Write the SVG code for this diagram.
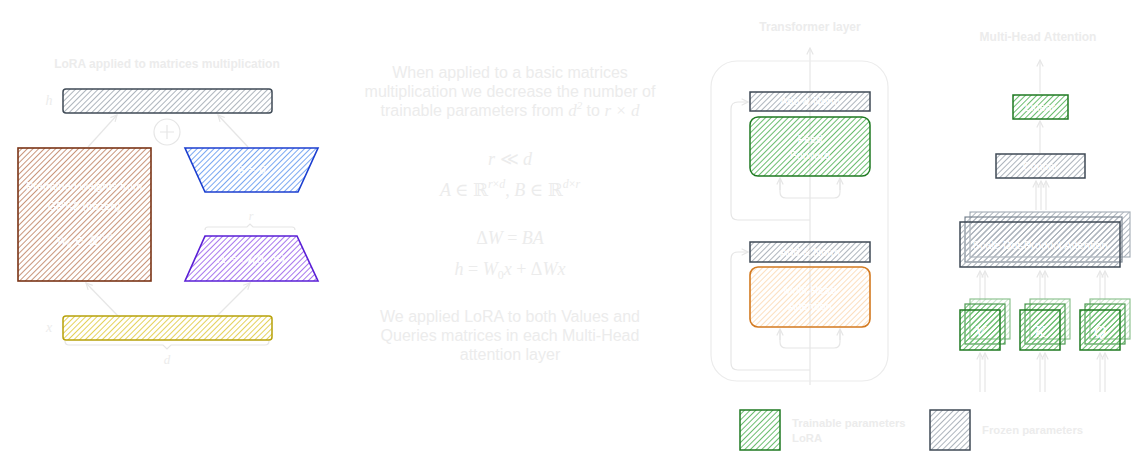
<svg xmlns="http://www.w3.org/2000/svg" width="1131" height="457" viewBox="0 0 1131 457">
<defs>
<pattern id="hGray" patternUnits="userSpaceOnUse" width="4" height="4" patternTransform="rotate(45)"><line x1="0" y1="0" x2="0" y2="4" stroke="#aeb5bd" stroke-width="2"/></pattern>
<pattern id="hGreen" patternUnits="userSpaceOnUse" width="4" height="4" patternTransform="rotate(45)"><line x1="0" y1="0" x2="0" y2="4" stroke="#6bbd6f" stroke-width="2"/></pattern>
<pattern id="hGreenL" patternUnits="userSpaceOnUse" width="4" height="4" patternTransform="rotate(45)"><line x1="0" y1="0" x2="0" y2="4" stroke="#c4e3c5" stroke-width="1.8"/></pattern>
<pattern id="hBrown" patternUnits="userSpaceOnUse" width="4" height="4" patternTransform="rotate(45)"><line x1="0" y1="0" x2="0" y2="4" stroke="#c9967c" stroke-width="2"/></pattern>
<pattern id="hBlue" patternUnits="userSpaceOnUse" width="4" height="4" patternTransform="rotate(45)"><line x1="0" y1="0" x2="0" y2="4" stroke="#7aa8f2" stroke-width="2"/></pattern>
<pattern id="hPurple" patternUnits="userSpaceOnUse" width="4" height="4" patternTransform="rotate(45)"><line x1="0" y1="0" x2="0" y2="4" stroke="#a878ee" stroke-width="2"/></pattern>
<pattern id="hYellow" patternUnits="userSpaceOnUse" width="4" height="4" patternTransform="rotate(45)"><line x1="0" y1="0" x2="0" y2="4" stroke="#e5d25a" stroke-width="2"/></pattern>
<pattern id="hOrange" patternUnits="userSpaceOnUse" width="4" height="4" patternTransform="rotate(45)"><line x1="0" y1="0" x2="0" y2="4" stroke="#fcdcb8" stroke-width="1.8"/></pattern>
<marker id="arr" viewBox="0 0 10 10" refX="9" refY="5" markerWidth="8" markerHeight="8" orient="auto-start-reverse" markerUnits="userSpaceOnUse"><path d="M1,1 L9,5 L1,9" fill="none" stroke="#e6e6e6" stroke-width="1.5"/></marker>
</defs>
<style>
.t{font-family:"Liberation Sans",Arial,sans-serif;fill:#ececec}
.tb{font-family:"Liberation Sans",Arial,sans-serif;font-weight:bold;fill:#ececec;font-size:12px}
.m{font-family:"Liberation Serif","DejaVu Serif",serif;fill:#ececec;font-style:italic}
.w{font-family:"Liberation Sans",Arial,sans-serif;fill:#ffffff;font-size:11px}
.wm{font-family:"Liberation Serif","DejaVu Serif",serif;fill:#ffffff;font-style:italic}
.c{fill:none;stroke:#e6e6e6;stroke-width:1.2}
.ca{fill:none;stroke:#e6e6e6;stroke-width:1.2;marker-end:url(#arr)}
.gray{fill:url(#hGray);stroke:#3f4a56;stroke-width:1.5}
.green{fill:url(#hGreen);stroke:#1f7a22;stroke-width:1.5}
.greenL{fill:url(#hGreenL);stroke:#8fc492;stroke-width:1.2}
</style>

<!-- Connectors -->
<g id="connectors">
<line class="ca" x1="88" y1="147" x2="117" y2="115"/>
<line class="ca" x1="248" y1="147" x2="218" y2="115"/>
<line class="ca" x1="118" y1="316" x2="86" y2="283"/>
<line class="ca" x1="217" y1="316" x2="250" y2="283"/>
<path class="c" d="M205,230 q0,-3 3,-3 h39 l3,-3 l3,3 h39 q3,0 3,3"/>
<path class="c" d="M65,341 q0,4 4,4 h94 l4,4 l4,-4 h94 q4,0 4,-4"/>
<!-- transformer -->
<line class="ca" x1="810" y1="385" x2="810" y2="48"/>
<path class="ca" d="M810,220 H738 q-7,0 -7,-7 V109 q0,-7 7,-7 H748"/>
<path class="ca" d="M810,370 H738 q-7,0 -7,-7 V259 q0,-7 7,-7 H748"/>
<path class="c" d="M780,180 V192 q0,6 6,6 H834 q6,0 6,-6 V180"/>
<line class="ca" x1="780" y1="190" x2="780" y2="178"/>
<line class="ca" x1="840" y1="190" x2="840" y2="178"/>
<path class="c" d="M780,330 V342 q0,6 6,6 H834 q6,0 6,-6 V330"/>
<line class="ca" x1="780" y1="340" x2="780" y2="329"/>
<line class="ca" x1="840" y1="340" x2="840" y2="329"/>
<!-- multi-head -->
<line class="ca" x1="1040" y1="93" x2="1040" y2="60"/>
<line class="ca" x1="1040" y1="153" x2="1040" y2="121"/>
<line class="ca" x1="1036" y1="210" x2="1036" y2="181"/>
<line class="ca" x1="1041" y1="210" x2="1041" y2="181"/>
<line class="ca" x1="1046" y1="210" x2="1046" y2="181"/>
<line class="ca" x1="980" y1="305" x2="980" y2="271"/>
<line class="ca" x1="985" y1="300" x2="985" y2="271"/>
<line class="ca" x1="1040" y1="305" x2="1040" y2="271"/>
<line class="ca" x1="1045" y1="300" x2="1045" y2="271"/>
<line class="ca" x1="1100" y1="305" x2="1100" y2="271"/>
<line class="ca" x1="1105" y1="300" x2="1105" y2="271"/>
<line class="ca" x1="980" y1="392" x2="980" y2="353"/>
<line class="ca" x1="985" y1="392" x2="985" y2="353"/>
<line class="ca" x1="1040" y1="392" x2="1040" y2="353"/>
<line class="ca" x1="1045" y1="392" x2="1045" y2="353"/>
<line class="ca" x1="1100" y1="392" x2="1100" y2="353"/>
<line class="ca" x1="1105" y1="392" x2="1105" y2="353"/>
</g>

<!-- Left panel -->
<text class="tb" x="167" y="68" text-anchor="middle">LoRA applied to matrices multiplication</text>
<g id="h-bar">
<rect class="gray" x="63" y="89" width="209" height="24" rx="3"/>
<text class="m" x="49" y="105" font-size="14" text-anchor="middle">h</text>
</g>
<g id="plus">
<circle cx="167" cy="132" r="13" fill="none" stroke="#e6e6e6" stroke-width="1.2"/>
<path d="M160,132 H174 M167,125 V139" stroke="#e6e6e6" stroke-width="1.2"/>
</g>
<g id="w0">
<rect x="18" y="148" width="133" height="133" fill="url(#hBrown)" stroke="#7a3416" stroke-width="1.6"/>
<text class="w" x="84" y="190" text-anchor="middle">Pretrained weights from</text>
<text class="w" x="84" y="210" text-anchor="middle">GPT-2 (frozen)</text>
<text class="wm" x="84" y="245" font-size="13" text-anchor="middle">W<tspan font-size="9" dy="3">0</tspan><tspan dy="-3"> ∈ ℝ</tspan><tspan font-size="9" dy="-5">d×d</tspan></text>
</g>
<g id="B">
<path d="M185,148 H318 L298,192 H205 Z" fill="url(#hBlue)" stroke="#1c3fd0" stroke-width="1.6"/>
<text class="wm" x="251" y="174" font-size="13" text-anchor="middle">B = 0</text>
</g>
<text class="m" x="251" y="220" font-size="12" text-anchor="middle">r</text>
<g id="A">
<path d="M205,236 H297 L318,281 H185 Z" fill="url(#hPurple)" stroke="#5a1fd6" stroke-width="1.6"/>
<text class="wm" x="251" y="263" font-size="13" text-anchor="middle">A = 𝒩(0, σ²)</text>
</g>
<g id="x-bar">
<rect x="63" y="316" width="209" height="24" rx="3" fill="url(#hYellow)" stroke="#b7a10a" stroke-width="1.5"/>
<text class="m" x="49" y="332" font-size="14" text-anchor="middle">x</text>
</g>
<text class="m" x="167" y="364" font-size="13" text-anchor="middle">d</text>

<!-- Middle text -->
<g id="middle-text">
<text class="t" x="510" y="78" font-size="16" text-anchor="middle">When applied to a basic matrices</text>
<text class="t" x="510" y="97" font-size="16" text-anchor="middle">multiplication we decrease the number of</text>
<text class="t" x="510" y="116" font-size="16" text-anchor="middle">trainable parameters from <tspan class="m" font-size="17">d</tspan><tspan class="m" font-size="11" dy="-7" font-style="normal">2</tspan><tspan dy="7"> to </tspan><tspan class="m" font-size="17">r</tspan><tspan class="m" font-size="17" font-style="normal"> × </tspan><tspan class="m" font-size="17">d</tspan></text>
<text class="m" x="510" y="165" font-size="18" text-anchor="middle">r <tspan font-style="normal">≪</tspan> d</text>
<text class="m" x="510" y="196" font-size="18" text-anchor="middle">A <tspan font-style="normal">∈ ℝ</tspan><tspan font-size="12" dy="-8">r<tspan font-style="normal">×</tspan>d</tspan><tspan dy="8" font-style="normal">, </tspan>B <tspan font-style="normal">∈ ℝ</tspan><tspan font-size="12" dy="-8">d<tspan font-style="normal">×</tspan>r</tspan></text>
<text class="m" x="510" y="244" font-size="18" text-anchor="middle"><tspan font-style="normal">Δ</tspan>W <tspan font-style="normal">=</tspan> BA</text>
<text class="m" x="510" y="275" font-size="18" text-anchor="middle">h <tspan font-style="normal">=</tspan> W<tspan font-size="12" dy="4" font-style="normal">0</tspan><tspan dy="-4">x </tspan><tspan font-style="normal">+ Δ</tspan>Wx</text>
<text class="t" x="510" y="322" font-size="16" text-anchor="middle">We applied LoRA to both Values and</text>
<text class="t" x="510" y="341" font-size="16" text-anchor="middle">Queries matrices in each Multi-Head</text>
<text class="t" x="510" y="360" font-size="16" text-anchor="middle">attention layer</text>
</g>

<!-- Transformer layer -->
<text class="tb" x="810" y="31" text-anchor="middle">Transformer layer</text>
<rect x="711" y="61" width="177" height="320" rx="26" fill="none" stroke="#ececec" stroke-width="1.2"/>
<g id="addnorm-top">
<rect class="gray" x="750" y="92" width="120" height="19"/>
<text class="w" x="810" y="105" text-anchor="middle">Add &amp; Norm</text>
</g>
<g id="feed-forward">
<rect class="green" x="750" y="117" width="120" height="59" rx="8"/>
<text class="w" x="810" y="143" text-anchor="middle">Feed</text>
<text class="w" x="810" y="159" text-anchor="middle">Forward</text>
</g>
<g id="addnorm-bottom">
<rect class="gray" x="750" y="242" width="120" height="20"/>
<text class="w" x="810" y="256" text-anchor="middle">Add &amp; Norm</text>
</g>
<g id="mha-block">
<rect x="750" y="267" width="120" height="60" rx="8" fill="url(#hOrange)" stroke="#d3791f" stroke-width="1.6"/>
<text class="w" x="810" y="294" text-anchor="middle">Multi-Head</text>
<text class="w" x="810" y="310" text-anchor="middle">Attention</text>
</g>

<!-- Multi-Head Attention panel -->
<text class="tb" x="1038" y="41" text-anchor="middle">Multi-Head Attention</text>
<g id="linear">
<rect class="green" x="1013" y="95" width="55" height="24"/>
<text class="w" x="1040" y="111" text-anchor="middle">Linear</text>
</g>
<g id="concat">
<rect class="gray" x="996" y="154" width="89" height="24"/>
<text class="w" x="1040" y="170" text-anchor="middle">Concat</text>
</g>
<g id="sdpa">
<rect x="970" y="212" width="160" height="45" fill="url(#hGray)" stroke="#aab2bb" stroke-width="1.2"/>
<rect x="965" y="217" width="157" height="45" fill="url(#hGray)" stroke="#7d8893" stroke-width="1.2"/>
<rect class="gray" x="960" y="222" width="160" height="45"/>
<text class="w" x="1040" y="249" font-size="12" text-anchor="middle">Scale Dot-Product Attention</text>
</g>
<g id="V">
<rect class="greenL" x="970" y="299" width="40" height="40"/>
<rect x="965" y="304" width="40" height="40" fill="url(#hGreen)" stroke="#4e9a52" stroke-width="1.2"/>
<rect class="green" x="960" y="310" width="40" height="40"/>
<text class="wm" x="980" y="337" font-size="17" text-anchor="middle">V</text>
</g>
<g id="K">
<rect class="greenL" x="1030" y="299" width="40" height="40"/>
<rect x="1025" y="304" width="40" height="40" fill="url(#hGreen)" stroke="#4e9a52" stroke-width="1.2"/>
<rect class="green" x="1020" y="310" width="40" height="40"/>
<text class="wm" x="1040" y="337" font-size="17" text-anchor="middle">K</text>
</g>
<g id="Q">
<rect class="greenL" x="1090" y="299" width="40" height="40"/>
<rect x="1085" y="304" width="40" height="40" fill="url(#hGreen)" stroke="#4e9a52" stroke-width="1.2"/>
<rect class="green" x="1080" y="310" width="40" height="40"/>
<text class="wm" x="1100" y="337" font-size="17" text-anchor="middle">Q</text>
</g>

<!-- Legend -->
<g id="legend-trainable">
<rect class="green" x="740" y="410" width="40" height="40"/>
<text class="t" x="792" y="427" font-size="11.3" font-weight="bold">Trainable parameters</text>
<text class="t" x="792" y="442" font-size="11.3" font-weight="bold">LoRA</text>
</g>
<g id="legend-frozen">
<rect class="gray" x="930" y="410" width="40" height="40"/>
<text class="t" x="982" y="434" font-size="11.3" font-weight="bold">Frozen parameters</text>
</g>
</svg>
